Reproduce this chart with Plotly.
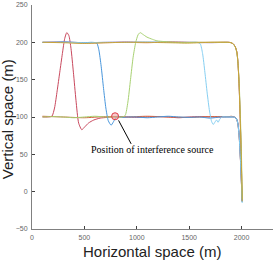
import plotly.graph_objects as go

# ---- data ----
red_x = [100, 150, 190, 215, 240, 265, 290, 312, 332, 352, 372, 395, 420, 445, 475, 505, 540, 590, 650, 720, 800, 900, 1000, 1100, 1200, 1300, 1400, 1500, 1600, 1700, 1800, 1880, 1920, 1940, 1955, 1965, 1975, 1985, 1995, 2005]
red_y = [100, 100, 101, 112, 135, 160, 185, 205, 213, 209, 192, 160, 122, 92, 83, 87, 92, 96, 98.5, 99.5, 100.5, 100, 99.5, 100, 100.5, 100, 99, 100, 100.5, 100, 100, 100, 100, 99, 96, 90, 78, 55, 25, -12]

blue_x = [100, 200, 300, 400, 500, 570, 618, 638, 660, 683, 705, 728, 755, 775, 795, 815, 840, 870, 920, 1000, 1100, 1200, 1300, 1400, 1500, 1600, 1700, 1800, 1880, 1920, 1940, 1955, 1965, 1975, 1985, 1995, 2005]
blue_y = [200, 200, 200.5, 200, 199.5, 200, 199, 190, 168, 138, 112, 95, 89, 93, 98, 101, 100, 99.5, 100, 100, 99, 100, 101, 100, 99.5, 100, 98.5, 100, 100, 100, 99.5, 97, 92, 80, 57, 27, -14]

green_x = [100, 200, 300, 400, 500, 600, 700, 800, 860, 889, 915, 940, 965, 990, 1012, 1032, 1055, 1097, 1150, 1192, 1260, 1350, 1450, 1550, 1650, 1750, 1850, 1900, 1925, 1945, 1958, 1968, 1978, 1988, 1998, 2007]
green_y = [100, 100.5, 100, 99, 100, 101, 100, 100, 100, 102, 120, 150, 180, 200, 210, 213, 211, 207, 204, 202, 201, 200, 199.5, 200, 200, 200, 200, 199.5, 197, 192, 183, 168, 143, 104, 55, -10]

lblue_x = [100, 300, 500, 700, 900, 1100, 1300, 1500, 1580, 1606, 1628, 1650, 1672, 1694, 1714, 1730, 1745, 1761, 1776, 1792, 1815, 1850, 1880, 1920, 1940, 1955, 1965, 1975, 1985, 1995, 2006]
lblue_y = [200, 200, 199.5, 200, 200, 200.5, 200, 200, 200, 198, 185, 160, 132, 108, 94, 90, 93, 96, 93, 97, 100, 100, 100, 100, 99, 96, 90, 78, 55, 25, -15]

gold_x = [100, 300, 500, 700, 900, 1100, 1300, 1500, 1700, 1880, 1900, 1920, 1940, 1955, 1965, 1975, 1985, 1995, 2006]
gold_y = [200, 199.5, 198.5, 199.5, 200, 200, 199.5, 199, 200, 200, 199.5, 198, 194, 187, 174, 148, 108, 58, -13]

purple_x = [100, 300, 500, 700, 900, 1100, 1300, 1500, 1700, 1880, 1900, 1920, 1940, 1955, 1965, 1975, 1985, 1995, 2005]
purple_y = [200, 200.5, 199.5, 200, 200.5, 200, 200.5, 200, 199.5, 200, 199.5, 198, 194, 187, 174, 148, 108, 58, -12]

orange_x = [100, 300, 500, 700, 900, 1100, 1300, 1500, 1700, 1880, 1900, 1920, 1940, 1955, 1965, 1975, 1985, 1995, 2005]
orange_y = [101, 100, 99, 100.5, 100, 101, 100, 99.5, 100.5, 100.5, 101, 100.5, 99.5, 96.5, 91, 79, 56, 26, -12]

brown_x = [100, 300, 500, 700, 900, 1100, 1300, 1500, 1700, 1880, 1900, 1920, 1940, 1955, 1965, 1975, 1985, 1995, 2006]
brown_y = [200, 200, 199, 199.5, 200, 199.5, 200.5, 200, 200, 200, 199.5, 198, 194, 187, 174, 148, 108, 58, -13]

series = [
    (red_x, red_y, "#c9485d"),
    (purple_x, purple_y, "#a070be"),
    (brown_x, brown_y, "#e07a48"),
    (orange_x, orange_y, "#d0603a"),
    (blue_x, blue_y, "#4896dc"),
    (lblue_x, lblue_y, "#86cff2"),
    (green_x, green_y, "#a8d172"),
    (gold_x, gold_y, "#c9a23a"),
]

source_x = [793]
source_y = [101]
arrow_head = (826, 95.5)
arrow_tail = (954, 62)
label_pos = (1154, 57)
label_text = "Position of interference source"

x_ticks = [0, 500, 1000, 1500, 2000]
y_ticks = [-50, 0, 50, 100, 150, 200, 250]
x_range = [0, 2300]
y_range = [-50, 250]

fig = go.Figure()
for xs, ys, c in series:
    fig.add_trace(go.Scatter(x=xs, y=ys, mode="lines",
                             line=dict(color=c, width=1, shape="spline", smoothing=0.6),
                             showlegend=False, hoverinfo="skip"))

fig.add_trace(go.Scatter(x=source_x, y=source_y, mode="markers",
                         marker=dict(symbol="circle", size=7, color="rgba(240,150,150,0.5)",
                                     line=dict(color="#e03a45", width=1)),
                         showlegend=False))

fig.add_annotation(x=arrow_head[0], y=arrow_head[1], ax=arrow_tail[0], ay=arrow_tail[1],
                   axref="x", ayref="y", xref="x", yref="y", text="", showarrow=True,
                   arrowhead=0, arrowwidth=1, arrowcolor="black")
fig.add_annotation(x=label_pos[0], y=label_pos[1], xref="x", yref="y", text=label_text,
                   showarrow=False, font=dict(family="Liberation Serif", size=10, color="black"))

fig.add_annotation(x=-0.104, y=0.49, xref="paper", yref="paper", text="Vertical space (m)",
                   textangle=-90, showarrow=False, xanchor="center", yanchor="middle",
                   font=dict(family="Liberation Sans", size=15, color="#222"))
fig.add_annotation(x=0.496, y=-0.102, xref="paper", yref="paper", text="Horizontal space (m)",
                   showarrow=False, xanchor="center", yanchor="middle",
                   font=dict(family="Liberation Sans", size=15, color="#222"))

axis_common = dict(showgrid=False, zeroline=False, showline=True, linecolor="#808080",
                   linewidth=1, ticks="inside", ticklen=3, tickcolor="#404040",
                   tickfont=dict(family="Liberation Sans", size=7, color="#666"),
                   mirror=False, ticklabelstandoff=2, ticklabeloverflow="allow")

fig.update_xaxes(range=x_range, tickvals=x_ticks, **axis_common)
fig.update_yaxes(range=y_range, tickvals=y_ticks, **axis_common)

fig.update_layout(width=274, height=261, margin=dict(l=32, r=1, t=3, b=32),
                  plot_bgcolor="white", paper_bgcolor="white")

fig.write_html("out.html", config={"displayModeBar": False},
               post_script="document.body.style.margin='0';document.body.style.padding='0';document.body.style.overflow='hidden';")
